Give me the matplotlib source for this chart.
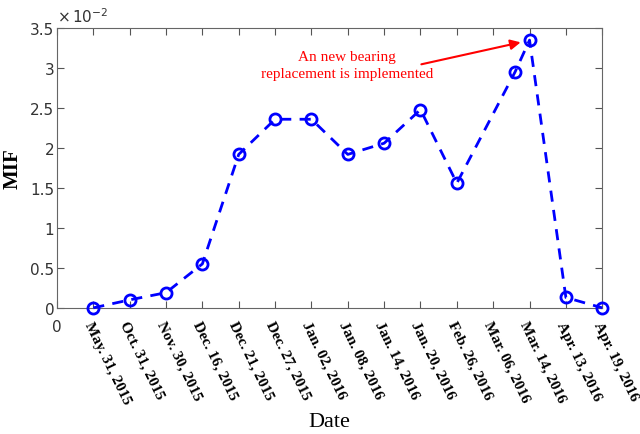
import matplotlib
matplotlib.use("Agg")
import matplotlib.pyplot as plt

# data (MIF in units of 1e-2)
x_pos = [1, 2, 3, 4, 5, 6, 7, 8, 9, 10, 11, 12.6, 13, 14, 15]
mif = [0.0, 0.10, 0.19, 0.55, 1.92, 2.36, 2.36, 1.92, 2.06, 2.48, 1.56, 2.95, 3.35, 0.13, 0.0]
dates = ["May. 31, 2015", "Oct. 31, 2015", "Nov. 30, 2015", "Dec. 16, 2015",
         "Dec. 21, 2015", "Dec. 27, 2015", "Jan. 02, 2016", "Jan. 08, 2016",
         "Jan. 14, 2016", "Jan. 20, 2016", "Feb. 26, 2016", "Mar. 06, 2016",
         "Mar. 14, 2016", "Apr. 13, 2016", "Apr. 19, 2016"]

fig = plt.figure(figsize=(6.4, 4.35), dpi=100)
ax = fig.add_axes([0.089, 0.29, 0.852, 0.643])

ax.plot(x_pos, mif, "--o", color="blue", lw=2, ms=8, mfc="none", mew=2,
        dashes=(4, 3), clip_on=False, zorder=3)

ax.set_xlim(0, 15)
ax.set_ylim(0, 3.5)
ax.set_yticks([0, 0.5, 1, 1.5, 2, 2.5, 3, 3.5])
ax.set_yticklabels(["0", "0.5", "1", "1.5", "2", "2.5", "3", "3.5"])
ax.set_xticks(range(16))
ax.set_xticklabels(["0"] + dates)

for i, t in enumerate(ax.get_xticklabels()):
    if i == 0:
        t.set_fontsize(11)
        t.set_color("#333333")
    else:
        t.set_family("Liberation Serif")
        t.set_fontweight("bold")
        t.set_fontsize(11)
        t.set_rotation(-64)
        t.set_rotation_mode("anchor")
        t.set_ha("left")
        t.set_va("top")

ax.tick_params(axis="both", direction="in", top=True, right=True, length=5,
               color="#555555", width=0.8)
ax.tick_params(axis="x", pad=8)
ax.tick_params(axis="y", labelsize=11, labelcolor="#333333", pad=2)
for s in ax.spines.values():
    s.set_color("#666666")

ax.text(0.0, 1.01, r"$\times\,10^{-2}$", transform=ax.transAxes, fontsize=11,
        color="#333333", ha="left", va="bottom")

ax.set_ylabel("MIF", family="Liberation Serif", fontweight="bold", fontsize=15, labelpad=5)
ax.set_xlabel("Date", family="Liberation Serif", fontsize=16, labelpad=5)

ax.annotate("", xy=(12.83, 3.33), xytext=(9.95, 3.04),
            arrowprops=dict(arrowstyle="-|>", color="red", lw=1.5, mutation_scale=15))
ax.text(7.98, 3.04, "An new bearing\nreplacement is implemented", color="red",
        family="Liberation Serif", fontsize=11, ha="center", va="center", linespacing=1.35)

fig.savefig("out.png", dpi=100)
